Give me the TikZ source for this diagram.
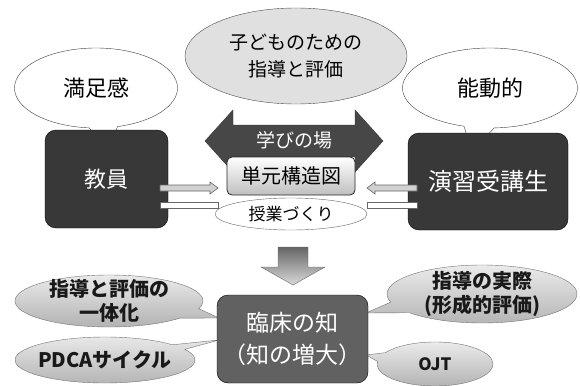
\documentclass[tikz,border=0pt]{standalone}
\usepackage{fontspec}
\newfontfamily\jp{Noto Sans CJK JP}
\usetikzlibrary{shapes.callouts,shapes.geometric,calc}
\begin{document}
\begin{tikzpicture}[x=1pt,y=-1pt,
  darkbox/.style={draw=black, fill=black!78, rounded corners=11pt, inner sep=0pt, text=white, align=center},
  bubble/.style={ellipse callout, draw=black!75, fill=white, inner sep=0pt, callout pointer arc=20},
  graybubble/.style={ellipse callout, draw=black!55, top color=black!8, bottom color=black!30, inner sep=0pt, callout pointer arc=24},
  btext/.style={font={\jp\bfseries\fontsize{20}{24}\selectfont}, text=black!90, align=center, inner sep=0pt},
  smallarr/.style={draw=black!60, fill=black!18, line width=0.6pt},
  bigarr/.style={draw=black!80, fill=black!72},
]
\useasboundingbox (0,0) rectangle (580,385);
% pointer coordinates
\coordinate (p1) at (108,152);
\coordinate (p2) at (472,152);
\coordinate (p3) at (219,318);
\coordinate (p4) at (219,340);
\coordinate (p5) at (366,313);
\coordinate (p6) at (366,355);

% top ellipse
\node[ellipse, draw=black!70, fill=black!12, minimum width=222pt, minimum height=96pt, inner sep=0pt,
  font={\jp\fontsize{19}{27}\selectfont}, align=center] (kodomo) at (296,56) {子どものための\\指導と評価};

% callouts top
\node[bubble, minimum width=163pt, minimum height=80pt, callout absolute pointer=(p1),
  font={\jp\fontsize{22}{26}\selectfont}] (manzoku) at (96,88) {満足感};
\node[bubble, minimum width=175pt, minimum height=80pt, callout absolute pointer=(p2),
  font={\jp\fontsize{22}{26}\selectfont}] (noudou) at (490,88) {能動的};

% dark boxes
\node[darkbox, minimum width=123pt, minimum height=98pt, font={\jp\fontsize{22}{26}\selectfont}] (kyoin) at (106.5,179) {教員};
\node[darkbox, minimum width=160pt, minimum height=97pt, font={\jp\fontsize{24}{28}\selectfont}] (enshu) at (488,181.5) {演習受講生};

% double arrow
\draw[bigarr] (205,141) -- (233,110) -- (233,125) -- (355,125) -- (355,110) -- (383,141)
  -- (355,172) -- (355,157) -- (233,157) -- (233,172) -- cycle;
\node[text=white, font={\jp\fontsize{19}{23}\selectfont}, inner sep=0pt] (manabi) at (294,140) {学びの場};

% unit structure box
\node[draw=black!85, line width=0.8pt, rounded corners=5pt, top color=white, bottom color=black!25,
  minimum width=128pt, minimum height=38pt, inner sep=0pt, font={\jp\fontsize{20}{24}\selectfont}] (tangen) at (291,176) {単元構造図};
\node[ellipse, draw=black!60, fill=white, minimum width=152pt, minimum height=32pt, inner sep=0pt,
  font={\jp\fontsize{17}{20}\selectfont}] (jugyo) at (291,214) {授業づくり};

% small arrows
\coordinate (la) at (218,188);
\coordinate (lb) at (218,205);
\coordinate (ra) at (367,188);
\coordinate (rb) at (367,205);
\draw[smallarr] (la) -- ++(-8,-6) -- ++(0,3) -- ++(-50,0) -- ++(0,6) -- ++(50,0) -- ++(0,3) -- cycle;
\draw[smallarr, fill=white] ($(lb)+(0,-3)$) rectangle ($(lb)+(-58,3)$);
\draw[smallarr] (ra) -- ++(8,-6) -- ++(0,3) -- ++(42,0) -- ++(0,6) -- ++(-42,0) -- ++(0,3) -- cycle;
\draw[smallarr, fill=white] ($(rb)+(0,-3)$) rectangle ($(rb)+(50,3)$);

% down arrow
\draw[draw=black!60, top color=black!60, bottom color=black!15] (278,247) -- (308,247) -- (308,267) -- (325,267)
  -- (293,285) -- (261,267) -- (278,267) -- cycle;

% bottom callouts
\node[graybubble, minimum width=188pt, minimum height=52pt, callout absolute pointer=(p3)] (itai) at (109,301) {};
\node[btext] at (itai.center) {指導と評価の\\一体化};
\node[graybubble, minimum width=180pt, minimum height=46pt, callout absolute pointer=(p4), callout pointer arc=14] (pdca) at (105,360) {};
\node[btext] at (pdca.center) {PDCAサイクル};
\node[graybubble, minimum width=190pt, minimum height=58pt, callout absolute pointer=(p5)] (jissai) at (482,294) {};
\node[btext] at (jissai.center) {指導の実際\\(形成的評価)};
\node[graybubble, minimum width=116pt, minimum height=44pt, callout absolute pointer=(p6)] (ojt) at (435,364) {};
\node[btext, font={\jp\bfseries\fontsize{17}{20}\selectfont}] at (ojt.center) {OJT};

% clinical knowledge box
\node[darkbox, fill=black!62, minimum width=151pt, minimum height=88pt, font={\jp\fontsize{23}{32}\selectfont}] (rinsho) at (292.5,339) {臨床の知\\（知の増大）};
\end{tikzpicture}
\end{document}
